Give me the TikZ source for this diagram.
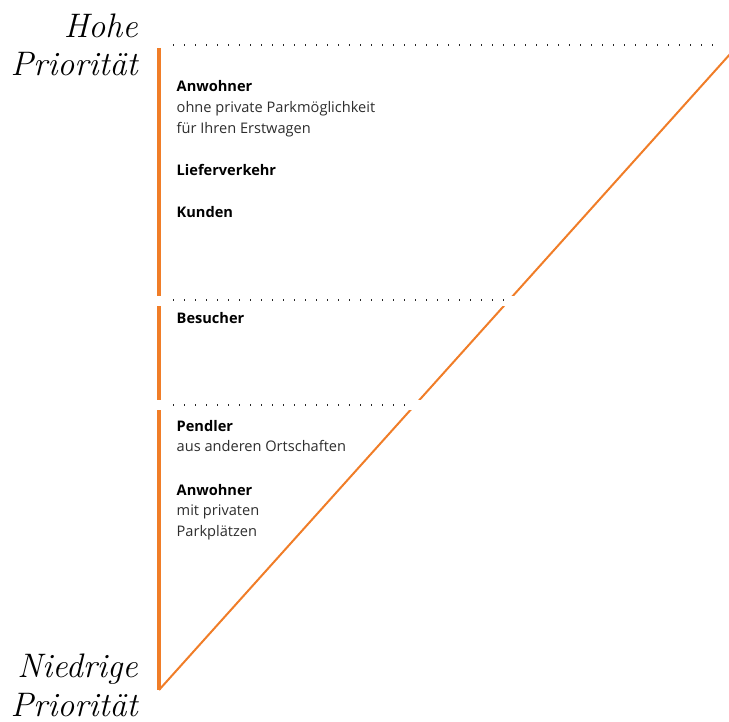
\documentclass[tikz,border=0pt]{standalone}
\usepackage{fontspec}
\setsansfont{Open Sans}
\definecolor{prio}{RGB}{240,125,40}
\definecolor{txt}{RGB}{45,45,45}
\begin{document}
\begin{tikzpicture}[x=1pt,y=-1pt,
  bar/.style={line width=4pt,color=prio},
  diag/.style={line width=2pt,color=prio},
  sep/.style={line width=1.3pt,dash pattern=on 1.3pt off 9.7pt,color=black!85},
  gap/.style={line width=10pt,color=white},
  titel/.style={anchor=base east,inner sep=0pt,font=\fontsize{34}{38.5}\selectfont\itshape,align=right},
  head/.style={anchor=base west,inner sep=0pt,font=\fontsize{14.6}{21}\selectfont\sffamily\bfseries},
  sub/.style={anchor=base west,inner sep=0pt,font=\fontsize{14.6}{21}\selectfont\sffamily,text=txt,align=left}]

\useasboundingbox (0,0) rectangle (729,722);

% Balken und Diagonale
\draw[bar] (159,48)--(159,690);
\draw[diag] (159,690)--(731,53);

% Trennlinien
\draw[gap] (152,301)--(525,301);
\draw[gap] (152,404.5)--(430,404.5);
\draw[sep] (173,45)--(722,45);
\draw[sep] (173,300)--(506,300);
\draw[sep] (173,405)--(410,405);

% Beschriftung links (base = letzte Zeile)
 \node[titel] (hoch) at (138,76) {Hohe\\Priorität};
 \node[titel] (tief) at (138,716) {Niedrige\\Priorität};

% Gruppen
 \node[head] (anw1) at (176.5,91.5) {Anwohner};
 \node[sub] (anw1t) at (176.5,133.5) {ohne private Parkmöglichkeit\\für Ihren Erstwagen};
 \node[head] (liefer) at (176.5,176) {Lieferverkehr};
 \node[head] (kunden) at (176.5,218) {Kunden};
 \node[head] (besuch) at (176.5,324) {Besucher};
 \node[head] (pendl) at (176.5,431.5) {Pendler};
 \node[sub] (pendlt) at (176.5,451.5) {aus anderen Ortschaften};
 \node[head] (anw2) at (176.5,495) {Anwohner};
 \node[sub] (anw2t) at (176.5,536) {mit privaten\\Parkplätzen};
\end{tikzpicture}
\end{document}
